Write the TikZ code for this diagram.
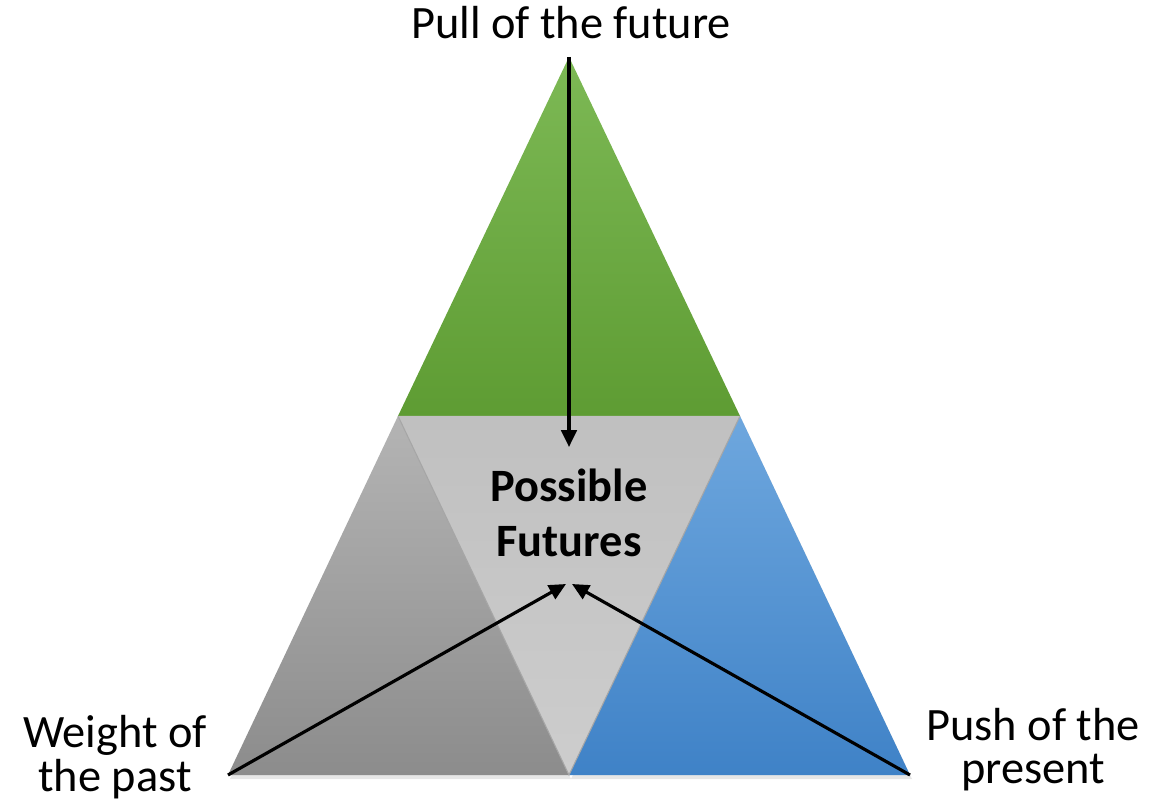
\documentclass[tikz,border=0pt]{standalone}
\usepackage{fontspec}
\setmainfont{Carlito}
\usetikzlibrary{arrows.meta,shadows}

\definecolor{greenTop}{HTML}{7DB955}
\definecolor{greenBot}{HTML}{5E9C33}
\definecolor{grayTop}{HTML}{B4B4B4}
\definecolor{grayBot}{HTML}{8C8C8C}
\definecolor{midTop}{HTML}{C0C0C0}
\definecolor{midBot}{HTML}{CDCDCD}
\definecolor{blueTop}{HTML}{6EA7DE}
\definecolor{blueBot}{HTML}{3F82C7}

\tikzset{
  pointer/.style={line width=0.9pt, -{Triangle[length=4.8pt,width=4.4pt]}},
  sidetext/.style={align=center, inner sep=0pt, font=\fontsize{13.2}{11.4}\selectfont},
  softshadow/.style={drop shadow={opacity=0.2, shadow xshift=0.2mm, shadow yshift=-0.4mm}},
}

\begin{document}
\begin{tikzpicture}[x=0.1mm, y=-0.1mm]
        \useasboundingbox (0,0) rectangle (1168,808);

        % corners of the triangles
        \coordinate (apex) at (569,57);
        \coordinate (midL) at (398,416);
        \coordinate (midR) at (740,416);
        \coordinate (botL) at (228,775);
        \coordinate (botM) at (569,775);
        \coordinate (botR) at (910,775);

        \shade[top color=greenTop, bottom color=greenBot] (apex) -- (midR) -- (midL) -- cycle;
        \shade[softshadow, top color=grayTop, bottom color=grayBot] (midL) -- (botM) -- (botL) -- cycle;
        \shade[top color=midTop, bottom color=midBot] (midL) -- (midR) -- (botM) -- cycle;
        \shade[softshadow, top color=blueTop, bottom color=blueBot] (midR) -- (botR) -- (botM) -- cycle;
        \draw[gray!70, line width=0.3pt] (midL) -- (botM) -- (midR);

        % texts
        \node[sidetext, anchor=base] (pull) at (571,39) {Pull of the future};
        \node[sidetext, font=\fontsize{13.2}{15.6}\selectfont\bfseries] (futures) at (569,513) {Possible\\Futures};
        \node[sidetext] (weight) at (115,757) {Weight of\\the past};
        \node[sidetext, font=\fontsize{13.2}{12.2}\selectfont] (push) at (1033,750) {Push of the\\present};

        % forces
        \coordinate (tipTop) at (569,447);
        \coordinate (tipL) at (566,584);
        \coordinate (tipR) at (572,584);

        \draw[pointer] (apex) -- (tipTop);
        \draw[pointer] (botL) -- (tipL);
        \draw[pointer] (botR) -- (tipR);

\end{tikzpicture}
\end{document}
